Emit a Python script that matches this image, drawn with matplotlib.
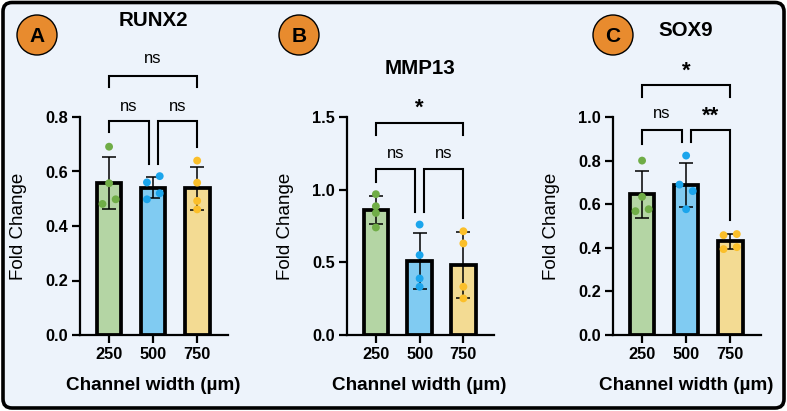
import numpy as np
import matplotlib
matplotlib.use("Agg")
import matplotlib.pyplot as plt
from matplotlib.patches import FancyBboxPatch, Circle

plt.rcParams['font.family'] = ['Liberation Sans', 'DejaVu Sans']

# --- data -----------------------------------------------------------------
widths = ['250', '500', '750']
genes = ['RUNX2', 'MMP13', 'SOX9']
letters = ['A', 'B', 'C']
ylims = [0.8, 1.5, 1.0]
ysteps = [0.2, 0.5, 0.2]

# individual replicate values (fold change), one list per channel width
runx2_pts = [[0.691, 0.557, 0.481, 0.498],
             [0.560, 0.583, 0.520, 0.498],
             [0.640, 0.559, 0.492, 0.461]]
mmp13_pts = [[0.969, 0.886, 0.840, 0.740],
             [0.760, 0.550, 0.389, 0.332],
             [0.714, 0.630, 0.332, 0.252]]
sox9_pts = [[0.800, 0.634, 0.568, 0.577],
            [0.823, 0.690, 0.660, 0.577],
            [0.458, 0.463, 0.394, 0.403]]
all_pts = [runx2_pts, mmp13_pts, sox9_pts]

# horizontal jitter of the dots (category units)
runx2_jit = [[0, 0, -0.15, 0.15], [-0.14, 0.15, 0.15, -0.14], [0, 0, 0, 0]]
mmp13_jit = [[0, 0, 0, 0], [0, 0, 0, 0], [0, 0, 0, 0]]
sox9_jit = [[0, 0, -0.15, 0.15], [0, -0.15, 0.15, 0], [-0.15, 0.15, -0.15, 0.15]]
all_jit = [runx2_jit, mmp13_jit, sox9_jit]

# significance brackets: (x1, x2, y, leg end left, leg end right, label, label y)
runx2_sig = [(0, 2, 0.95, 0.91, 0.91, 'ns', 1.013),
             (0, 0.9, 0.785, 0.745, 0.628, 'ns', 0.84),
             (1.1, 2, 0.785, 0.628, 0.69, 'ns', 0.84)]
mmp13_sig = [(0, 2, 1.461, 1.374, 1.374, '*', 1.56),
             (0, 0.9, 1.145, 1.053, 0.847, 'ns', 1.25),
             (1.1, 2, 1.145, 0.847, 0.806, 'ns', 1.25)]
sox9_sig = [(0, 2, 1.145, 1.092, 1.092, '*', 1.21),
            (0, 0.9, 0.939, 0.878, 0.885, 'ns', 1.015),
            (1.1, 2, 0.939, 0.885, 0.527, '**', 1.005)]
all_sig = [runx2_sig, mmp13_sig, sox9_sig]

bar_cols = ['#B4D5A4', '#80CBF2', '#F3DB93']
dot_cols = ['#70AD47', '#1BA5EC', '#FBBF2A']

# --- figure ---------------------------------------------------------------
W, H = 787, 411
fig = plt.figure(figsize=(W / 100, H / 100), dpi=100)
fig.patch.set_facecolor('white')

# pixel-space background axes for the frame, badges and titles
bg = fig.add_axes([0, 0, 1, 1], zorder=-5)
bg.set_xlim(0, W)
bg.set_ylim(H, 0)
bg.axis('off')
bg.add_patch(FancyBboxPatch((3, 2.5), W - 6, H - 5.5,
                            boxstyle='round,pad=0,rounding_size=9',
                            facecolor='#EDF3FB', edgecolor='black', lw=2.6))

axes_px = [(80, 228), (347, 494), (613, 761)]
badge_xy = [(37, 35), (299, 35), (613, 35)]
title_xy = [(153, 21), (420, 68), (686, 30)]
top_px, bot_px = 117, 335

for i in range(3):
    x0, x1 = axes_px[i]
    ax = fig.add_axes([x0 / W, (H - bot_px) / H, (x1 - x0) / W, (bot_px - top_px) / H])
    ax.set_facecolor('none')

    pts = all_pts[i]
    means = [np.mean(p) for p in pts]
    sds = [np.std(p, ddof=1) for p in pts]
    xs = np.arange(3)

    ax.bar(xs, means, width=0.56, color=bar_cols, edgecolor='black', lw=2.7, zorder=2)
    ax.errorbar(xs, means, yerr=sds, fmt='none', ecolor='black', elinewidth=1.1,
                capsize=5, capthick=1.1, zorder=3)
    for j in range(3):
        ax.scatter(xs[j] + np.array(all_jit[i][j]), pts[j], s=32, color=dot_cols[j],
                   edgecolor='none', zorder=4, clip_on=False)

    for (a, b, y, la, lb, lab, ly) in all_sig[i]:
        ax.plot([a, a, b, b], [la, y, y, lb], color='black', lw=1.5,
                clip_on=False, solid_joinstyle='miter', zorder=5)
        if lab == 'ns':
            ax.text((a + b) / 2, ly, lab, ha='center', va='center', fontsize=12)
        else:
            ax.text((a + b) / 2, ly, lab, ha='center', va='center', fontsize=16,
                    fontweight='bold')

    ax.set_xlim(-0.66, 2.7)
    ax.set_ylim(0, ylims[i])
    ax.set_yticks(np.arange(0, ylims[i] + 1e-9, ysteps[i]))
    ax.set_yticklabels(['%.1f' % v for v in ax.get_yticks()])
    ax.set_xticks(xs)
    ax.set_xticklabels(widths)
    for s in ['top', 'right']:
        ax.spines[s].set_visible(False)
    for s in ['left', 'bottom']:
        ax.spines[s].set_linewidth(1.6)
    ax.tick_params(length=5.5, width=1.6, direction='out', labelsize=11.8, pad=3)
    for t in ax.get_xticklabels() + ax.get_yticklabels():
        t.set_fontweight('bold')

    ax.set_ylabel('Fold Change', fontsize=13.5)
    ax.yaxis.set_label_coords(-53 / (x1 - x0), 0.5)
    ax.set_xlabel('Channel width (µm)', fontsize=13.6, fontweight='bold', va='center')
    ax.xaxis.set_label_coords((1 + 0.66) / 3.36, -50 / (bot_px - top_px))

    cx, cy = badge_xy[i]
    bg.add_patch(Circle((cx, cy), 20, facecolor='#E88B2E', edgecolor='black', lw=1.0))
    bg.text(cx, cy + 1, letters[i], ha='center', va='center', fontsize=15,
            fontweight='bold')
    tx, ty = title_xy[i]
    bg.text(tx, ty, genes[i], ha='center', va='center', fontsize=14.8, fontweight='bold')

fig.savefig('out.png', dpi=100, facecolor=fig.get_facecolor())
